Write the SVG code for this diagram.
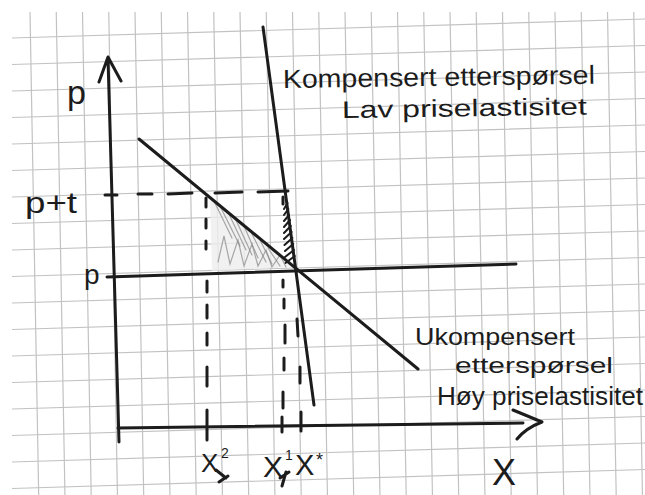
<svg xmlns="http://www.w3.org/2000/svg" width="645" height="495" viewBox="0 0 645 495">
<style>
.grid{stroke:#c2c2c2;stroke-width:1.2;fill:none}
.ink{stroke:#1c1c1c;stroke-width:3;fill:none;stroke-linecap:round;stroke-linejoin:round}
.dash{stroke:#1c1c1c;stroke-width:3;fill:none;stroke-linecap:round}
.thin{stroke:#1c1c1c;stroke-width:2;fill:none;stroke-linecap:round}
.pencil{stroke:#8c8c8c;stroke-width:1.2;fill:none;stroke-linecap:round;opacity:0.75}
.hand{font-family:"Liberation Sans",Arial,sans-serif;fill:#1c1c1c}
</style>
<rect width="645" height="495" fill="#ffffff"/>
<g id="grid" class="grid">
<path d="M12 38L645 19M12 64.5L645 45.5M12 91L645 72M12 117.5L645 98.5M12 144L645 125M12 170.5L645 151.5M12 197L645 178M12 223.5L645 204.5M12 250L645 231M12 276.5L645 257.5M12 303L645 284M12 329.5L645 310.5M12 356L645 337M12 382.5L645 363.5M12 409L645 390M12 435.5L645 416.5M12 462L645 443M12 488.5L645 469.5"/>
<path d="M30 12L38.7 495M56.25 12L64.95 495M82.5 12L91.2 495M108.75 12L117.45 495M135 12L143.7 495M161.25 12L169.95 495M187.5 12L196.2 495M213.75 12L222.45 495M240 12L248.7 495M266.25 12L274.95 495M292.5 12L301.2 495M318.75 12L327.45 495M345 12L353.7 495M371.25 12L379.95 495M397.5 12L406.2 495M423.75 12L432.45 495M450 12L458.7 495M476.25 12L484.95 495M502.5 12L511.2 495M528.75 12L537.45 495M555 12L563.7 495M581.25 12L589.95 495M607.5 12L616.2 495M633.75 12L642.45 495"/>
</g>
<g id="shading">
<polygon points="210,196 293,267 212,271" fill="#eeeeee" opacity="0.8"/>
<path class="pencil" d="M214 201L232 238M220 206L240 246M228 212L246 250M236 220L252 255M244 226L258 258M252 234L266 262M260 240L272 264M268 248L280 266"/>
<path class="pencil" d="M218 262L224 236L230 264L238 240L244 266L252 244L258 266L266 250L272 267L280 255L286 267"/>
<path class="thin" d="M284 209L287.5 203M284 215L288.3 209M284 221L289 215M284 227L290 220M284 233L290.8 226M284 239L291.6 232M284.5 245L292.4 238M285 251L293.2 244M285 257L294 250M285.5 263L294.8 256"/>
</g>
<g id="connectors">
<path id="y-axis" class="ink" d="M108 58L119 442M99 82L108 57L121 81"/>
<path id="x-axis" class="ink" d="M118 428L523 423M513 410L542 422Q526 428 517 439"/>
<path id="price-p" class="ink" d="M107 277L516 264"/>
<path id="uncompensated" class="ink" d="M139 139L418 369"/>
<path id="compensated" class="ink" d="M263 27L314 405"/>
<path id="price-pt" class="dash" d="M105 195L117 195M138 194L152 194M168 194L192 193M215 193L242 192M258 192L288 191"/>
<path id="line-x2" class="dash" d="M206 198L206 207M206 219L206 228M206 241L206 249M207 281L207 292M207 305L207 318M207 333L207 345M207 367L207 386M207 410L207 440"/>
<path id="line-x1" class="dash" d="M283 197L283 204M283 280L283 287M284 299L284 308M285 325L285 343M284 358L284 370M283 392L283 408M282 417L282 432"/>
<path id="line-xstar" class="dash" d="M297 319L298 336M300 367L300 383M301 412L301 431"/>
</g>
<g id="labels" class="hand">
<text x="283" y="88" font-size="26" textLength="312" lengthAdjust="spacingAndGlyphs" transform="rotate(-0.8 283 88)">Kompensert etterspørsel</text>
<text x="342" y="118" font-size="24" textLength="245" lengthAdjust="spacingAndGlyphs" transform="rotate(-0.8 342 118)">Lav priselastisitet</text>
<text x="415" y="345" font-size="24" textLength="160" lengthAdjust="spacingAndGlyphs">Ukompensert</text>
<text x="455" y="373" font-size="22" textLength="158" lengthAdjust="spacingAndGlyphs">etterspørsel</text>
<text x="437" y="405" font-size="26" textLength="206" lengthAdjust="spacingAndGlyphs">Høy priselastisitet</text>
<text x="67" y="104" font-size="34">p</text>
<text x="25" y="213" font-size="30" textLength="52" lengthAdjust="spacingAndGlyphs">p+t</text>
<text x="84" y="284" font-size="28">p</text>
<text x="492" y="485" font-size="36">X</text>
<text x="201" y="472" font-size="26">X</text>
<text x="221" y="458" font-size="14">2</text>
<text x="263" y="477" font-size="30">X</text>
<text x="285" y="460" font-size="14">1</text>
<text x="295" y="475" font-size="29">X</text>
<text x="316" y="466" font-size="18">*</text>
</g>
<g id="marks" class="ink">
<path d="M216 470L226 478M219 482L228 476"/>
<path d="M280 478L289 472M282 486L286 472"/>
</g>
</svg>
